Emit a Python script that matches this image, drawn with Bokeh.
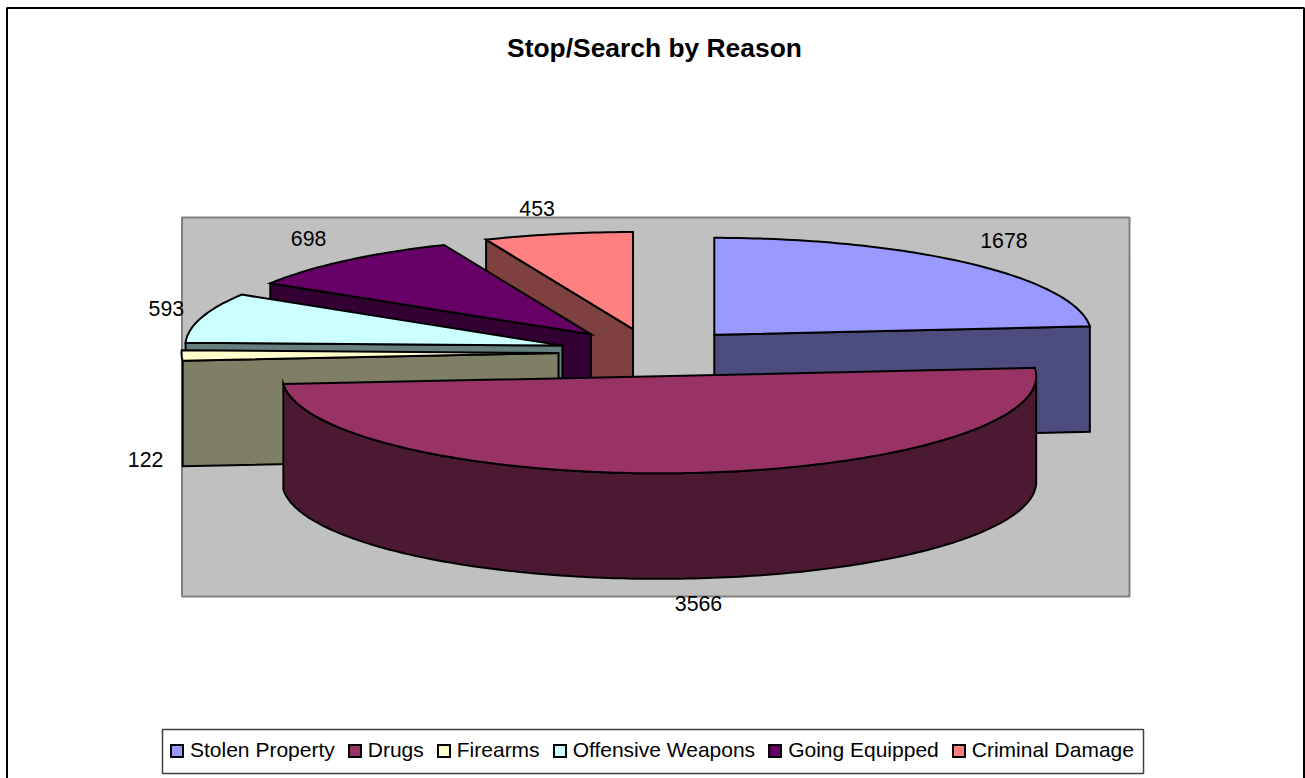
import numpy as np
from bokeh.core.properties import value
from bokeh.embed import file_html
from bokeh.models import ColumnDataSource, Legend, LegendItem, Range1d
from bokeh.plotting import figure
from bokeh.resources import INLINE

# ---- data ----
categories = ["Stolen Property", "Drugs", "Firearms", "Offensive Weapons", "Going Equipped", "Criminal Damage"]
counts = [1678, 3566, 122, 593, 698, 453]
top_colors = ["#9999FF", "#993366", "#FFFFCC", "#CCFFFF", "#660066", "#FF8080"]
side_colors = ["#4C4C7F", "#4C1933", "#7F7F66", "#667F7F", "#330033", "#7F4040"]
title_text = "Stop/Search by Reason"

# ---- projection of the tilted, exploded pie onto the page (pixels) ----
W, H = 1305, 778
CX, CY = 651.0, 352.0      # centre of the un-exploded pie
RX, RY = 377.0, 97.0       # ellipse radii of the pie's top
EXPLODE = 93.0             # horizontal explosion distance
DEPTH = 105.5              # pie thickness
FRAME = (6.5, 7.5, 1303.5, 790)
PLOT_AREA = (181.5, 217, 1129, 596)
LEGEND_BOX = (162, 729, 1143, 773)
# label offset from the rim point at each slice's mid-angle
LABEL_OFFSET = [(35, -23), (8, 130), (-36, 104), (-35, -9), (-37, -22), (-21, -25)]
PAINT_ORDER = [5, 4, 3, 2, 0, 1]   # back to front

counts_arr = np.array(counts, dtype=float)
edges = np.concatenate([[0.0], np.cumsum(counts_arr)]) / counts_arr.sum() * 2 * np.pi


def centre(mid):
    return (CX + EXPLODE * np.sin(mid), CY - EXPLODE * RY / RX * np.cos(mid))


def rim(cx, cy, ang):
    return cx + RX * np.sin(ang), cy - RY * np.cos(ang)


p = figure(width=W, height=H, x_range=Range1d(0, W), y_range=Range1d(H, 0),
           output_backend="svg", toolbar_location=None, min_border=0,
           background_fill_color="white", border_fill_color="white", outline_line_color=None)
p.axis.visible = False
p.grid.visible = False
p.styles = {"position": "absolute", "left": "0", "top": "0"}

p.quad(left=[FRAME[0]], right=[FRAME[2]], top=[FRAME[1]], bottom=[FRAME[3]],
       fill_color="white", line_color="black", line_width=2)
p.quad(left=[PLOT_AREA[0]], right=[PLOT_AREA[2]], top=[PLOT_AREA[1]], bottom=[PLOT_AREA[3]],
       fill_color="#C0C0C0", line_color="#808080", line_width=2)
p.quad(left=[LEGEND_BOX[0]], right=[LEGEND_BOX[2]], top=[LEGEND_BOX[1]], bottom=[LEGEND_BOX[3]],
       fill_color="white", line_color="#404040", line_width=1.5)

LW = 2
top_renderers = {}
for i in PAINT_ORDER:
    a0, a1 = edges[i], edges[i + 1]
    mid = (a0 + a1) / 2
    cx, cy = centre(mid)
    arc = np.linspace(a0, a1, max(8, int(np.degrees(a1 - a0)) + 2))
    ax, ay = rim(cx, cy, arc)

    # radial cut faces that look towards the viewer
    if i == 0:
        faces = [a1]
    elif i == 1:
        faces = []
    else:
        faces = [a0]
    for ang in faces:
        rx_, ry_ = rim(cx, cy, ang)
        p.patch([cx, rx_, rx_, cx], [cy, ry_, ry_ + DEPTH, cy + DEPTH],
                fill_color=side_colors[i], line_color="black", line_width=LW, line_join="miter")

    # outer rim, only where it faces the viewer
    front = arc[np.cos(arc) < 0]
    if i == 1 and len(front):
        fx, fy = rim(cx, cy, front)
        p.patch(np.concatenate([fx, fx[::-1]]), np.concatenate([fy, fy[::-1] + DEPTH]),
                fill_color=side_colors[i], line_color="black", line_width=LW, line_join="miter")

    src = ColumnDataSource(dict(x=np.concatenate([[cx], ax]), y=np.concatenate([[cy], ay])))
    top_renderers[i] = p.patch("x", "y", source=src, fill_color=top_colors[i],
                               line_color="black", line_width=LW, line_join="miter")

# data labels
lx, ly, lt = [], [], []
for i, c in enumerate(counts):
    mid = (edges[i] + edges[i + 1]) / 2
    cx, cy = centre(mid)
    rx_, ry_ = rim(cx, cy, mid)
    lx.append(rx_ + LABEL_OFFSET[i][0])
    ly.append(ry_ + LABEL_OFFSET[i][1])
    lt.append(str(c))
p.text(lx, ly, text=lt, text_font=value("Liberation Sans"), text_font_size="21.3px",
       text_color="black", text_align="center", text_baseline="middle")

# title
p.text([654], [47], text=[title_text], text_font=value("Liberation Sans"), text_font_size="26.4px",
       text_font_style="bold", text_color="black", text_align="center", text_baseline="middle")

legend = Legend(
    items=[LegendItem(label=value(n), renderers=[top_renderers[i]]) for i, n in enumerate(categories)],
    orientation="horizontal", location=(169, 14), margin=0, padding=8, spacing=12,
    label_standoff=6, glyph_width=15, glyph_height=15,
    label_text_font="Liberation Sans", label_text_font_size="21px", label_text_color="black",
    label_height=28, border_line_color=None, background_fill_alpha=0.0)
p.add_layout(legend, "center")

open("out.html", "w").write(file_html(p, INLINE))
